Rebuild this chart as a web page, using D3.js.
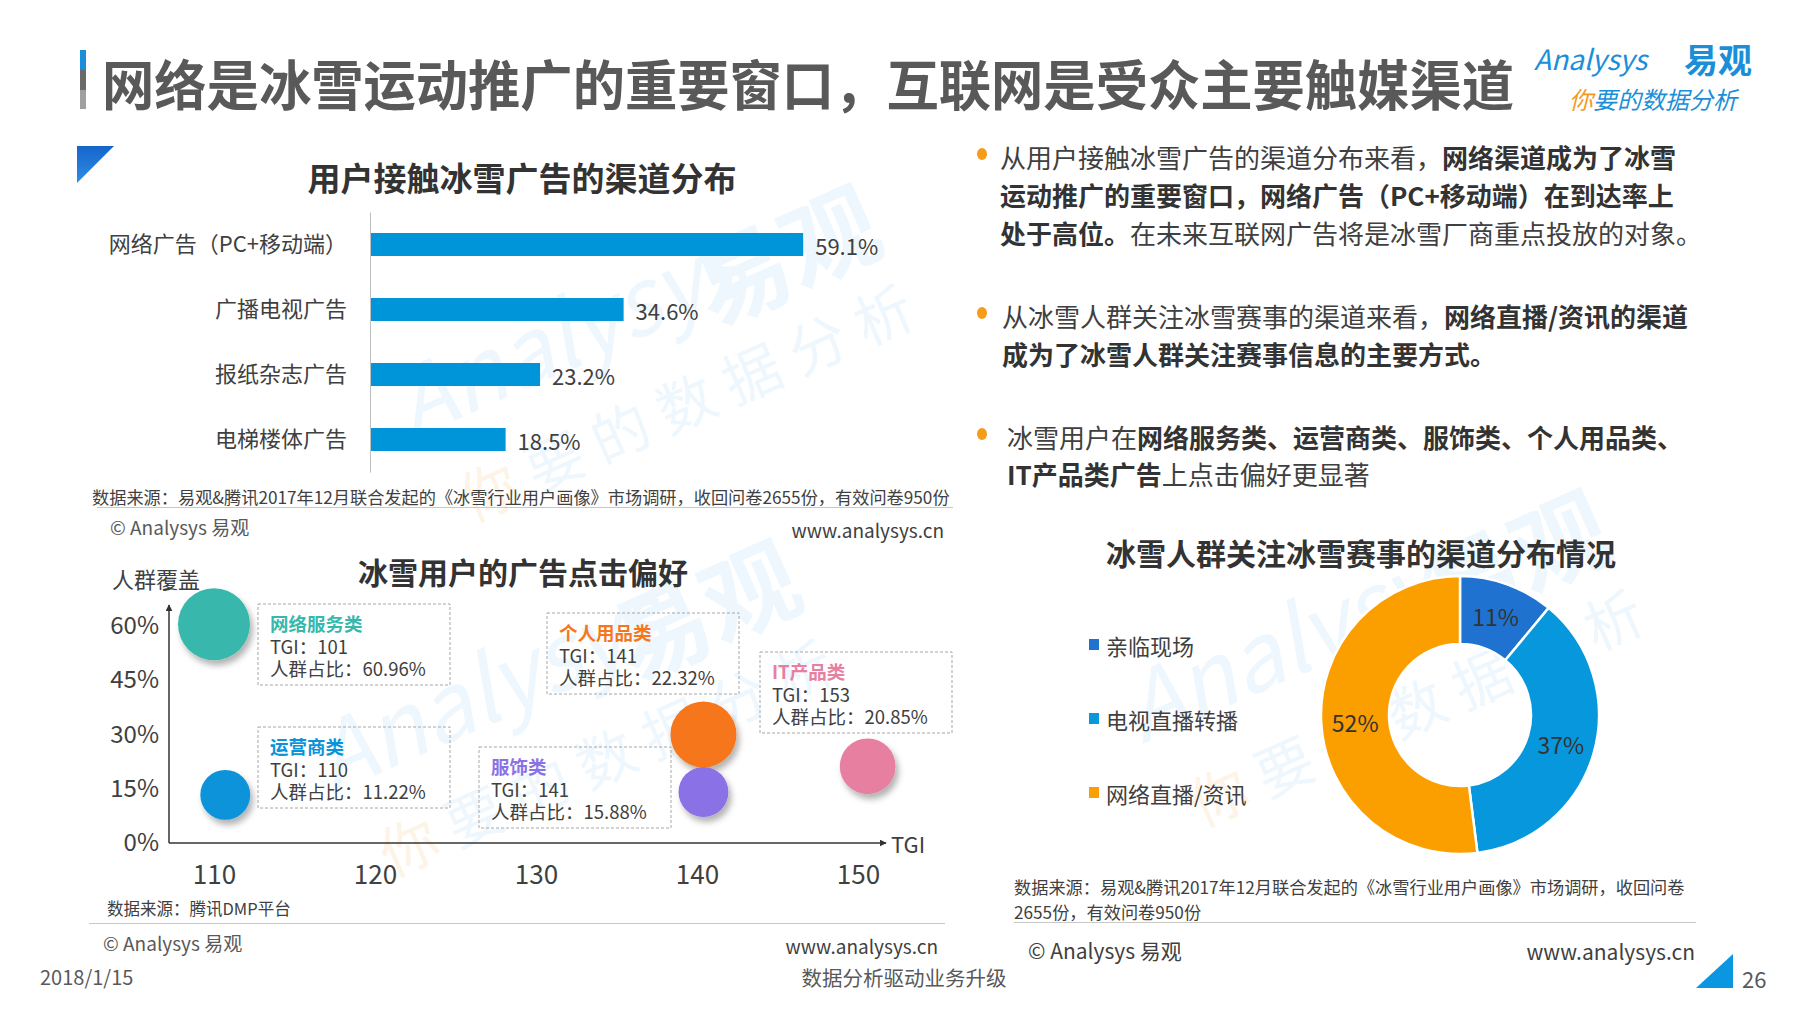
<!DOCTYPE html>
<html><head><meta charset="utf-8">
<script src="https://cdn.jsdelivr.net/npm/d3@7"></script>
<style>
body{margin:0;background:#fff}
svg{display:block}
text{font-family:"Noto Sans CJK SC","Noto Sans",sans-serif}
</style>
</head><body>
<svg id="c" width="1800" height="1013"></svg>
<script>
// ---------- DATA ----------
const barCategories = ["网络广告（PC+移动端）","广播电视广告","报纸杂志广告","电梯楼体广告"];
const barValues = [59.1, 34.6, 23.2, 18.5];

const bubbleNames = ["网络服务类","运营商类","个人用品类","服饰类","IT产品类"];
const bubbleTGI = [101, 110, 141, 141, 153];
const bubbleShare = [60.96, 11.22, 22.32, 15.88, 20.85];
// where each bubble sits on the (schematic) TGI / coverage axes
const bubbleAxisX = [110, 110.7, 140.4, 140.4, 150.6];
const bubbleAxisY = [60.5, 13.3, 30.0, 14.1, 21.2];
const bubbleWeight = [100, 48, 84, 48, 60];
const bubbleXTicks = [110, 120, 130, 140, 150];
const bubbleYTicks = [0, 15, 30, 45, 60];

const donutLabels = ["亲临现场","电视直播转播","网络直播/资讯"];
const donutValues = [11, 37, 52];

// ---------- STYLE ----------
const bubbleColors = ["#37b8ad","#0b93da","#f6761c","#8a72e6","#e67fa0"];
const donutColors = ["#1f72cf","#0797dd","#fb9e00"];
const TXT = "#404040";

const svg = d3.select("#c");
const defs = svg.append("defs");
const sh = defs.append("filter").attr("id","shadow").attr("x","-30%").attr("y","-30%").attr("width","170%").attr("height","170%");
sh.append("feDropShadow").attr("dx",3).attr("dy",5).attr("stdDeviation",3).attr("flood-color","#000").attr("flood-opacity",0.3);
defs.append("marker").attr("id","arrow").attr("viewBox","0 0 10 10").attr("refX",9).attr("refY",5)
  .attr("markerWidth",7).attr("markerHeight",7).attr("markerUnits","userSpaceOnUse").attr("orient","auto")
  .append("path").attr("d","M0,0L10,5L0,10Z").attr("fill","#333");
const g1 = defs.append("linearGradient").attr("id","tri").attr("x1","0").attr("y1","0").attr("x2","0").attr("y2","1");
g1.append("stop").attr("offset","0").attr("stop-color","#1565c8");
g1.append("stop").attr("offset","1").attr("stop-color","#2e8ee6");

// ---------- WATERMARKS ----------
function watermark(cx, cy){
  const w = svg.append("g").attr("transform",`translate(${cx},${cy}) rotate(-24)`);
  w.append("text").attr("x",-210).attr("y",10).attr("font-size",92).attr("font-style","italic")
    .attr("fill","#eef7fd").text("Analysys");
  w.append("text").attr("x",110).attr("y",30).attr("font-size",96).attr("font-weight",700)
    .attr("fill","#eef7fd").text("易观");
  const t = w.append("text").attr("x",-190).attr("y",110).attr("font-size",58).attr("letter-spacing",14);
  t.append("tspan").attr("fill","#fdf3e6").text("你");
  t.append("tspan").attr("fill","#eef7fd").text("要的数据分析");
}
watermark(600, 345);
watermark(520, 700);
watermark(1330, 650);

// ---------- HEADER ----------
svg.append("rect").attr("x",80).attr("y",50).attr("width",6).attr("height",20).attr("fill","#1a8fd8");
svg.append("rect").attr("x",80).attr("y",70).attr("width",6).attr("height",20).attr("fill","#6a6a6a");
svg.append("rect").attr("x",80).attr("y",90).attr("width",6).attr("height",19).attr("fill","#a0a0a0");
svg.append("text").attr("x",102).attr("y",82).attr("dominant-baseline","central")
  .attr("font-size",54).attr("font-weight",700).attr("fill","#595959")
  .attr("textLength",1412).attr("lengthAdjust","spacingAndGlyphs")
  .text("网络是冰雪运动推广的重要窗口，互联网是受众主要触媒渠道");
svg.append("text").attr("x",1534).attr("y",70).attr("font-size",28).attr("font-style","italic")
  .attr("fill","#1a8fd8").attr("font-family",'"Noto Sans",sans-serif').text("Analysys");
svg.append("text").attr("x",1684).attr("y",73).attr("font-size",34).attr("font-weight",700)
  .attr("fill","#1a8fd8").text("易观");
const slog = svg.append("text").attr("x",1569).attr("y",109).attr("font-size",24).attr("font-style","italic");
slog.append("tspan").attr("fill","#f39a1e").text("你");
slog.append("tspan").attr("fill","#1a8fd8").text("要的数据分析");

svg.append("path").attr("d","M77,146L114,146L77,183Z").attr("fill","url(#tri)");

// ---------- BAR CHART ----------
svg.append("text").attr("x",522).attr("y",177).attr("text-anchor","middle").attr("dominant-baseline","central")
  .attr("font-size",33).attr("font-weight",700).attr("fill","#333").text("用户接触冰雪广告的渠道分布");

const bx = d3.scaleLinear().domain([0,100]).range([370,1103]);
const by = d3.scaleBand().domain(barCategories).range([212,472]).paddingInner(0.646).paddingOuter(0.323);
const byAxis = svg.append("g").attr("transform",`translate(${bx(0)},0)`)
  .call(d3.axisLeft(by).tickSize(0).tickPadding(23));
byAxis.select(".domain").attr("stroke","#bfbfbf");
byAxis.selectAll("text").attr("font-size",22).attr("fill",TXT).attr("font-family",'"Noto Sans CJK SC",sans-serif');

svg.append("g").selectAll("rect").data(barValues).join("rect")
  .attr("x",bx(0)+1).attr("y",(d,i)=>by(barCategories[i]))
  .attr("width",d=>bx(d)-bx(0)-1).attr("height",by.bandwidth()).attr("fill","#0095d9");
svg.append("g").selectAll("text").data(barValues).join("text")
  .attr("x",d=>bx(d)+12).attr("y",(d,i)=>by(barCategories[i])+by.bandwidth()/2)
  .attr("dominant-baseline","central").attr("font-size",22).attr("fill",TXT)
  .text(d=>d.toFixed(1)+"%");

svg.append("text").attr("x",92).attr("y",496).attr("dominant-baseline","central")
  .attr("font-size",17.2).attr("fill",TXT)
  .text("数据来源：易观&腾讯2017年12月联合发起的《冰雪行业用户画像》市场调研，收回问卷2655份，有效问卷950份");
svg.append("line").attr("x1",97).attr("x2",953).attr("y1",507.5).attr("y2",507.5).attr("stroke","#c8c8c8");
svg.append("text").attr("x",110).attr("y",526).attr("dominant-baseline","central")
  .attr("font-size",19).attr("fill","#595959").text("© Analysys 易观");
svg.append("text").attr("x",944).attr("y",529).attr("dominant-baseline","central").attr("text-anchor","end")
  .attr("font-size",19).attr("fill","#404040").text("www.analysys.cn");

// ---------- BUBBLE CHART ----------
svg.append("text").attr("x",523).attr("y",571).attr("text-anchor","middle").attr("dominant-baseline","central")
  .attr("font-size",30).attr("font-weight",700).attr("fill","#333").text("冰雪用户的广告点击偏好");
svg.append("text").attr("x",112).attr("y",578).attr("dominant-baseline","central")
  .attr("font-size",22).attr("fill",TXT).text("人群覆盖");

const sx = d3.scaleLinear().domain([110,150]).range([214,858]);
const sy = d3.scaleLinear().domain([0,60]).range([843,626]);
const sr = d3.scaleSqrt().domain([0,100]).range([0,36]);
const x0 = 169;

const xa = svg.append("g").attr("transform",`translate(0,${sy(0)})`)
  .call(d3.axisBottom(sx).tickValues(bubbleXTicks).tickSize(0).tickPadding(23));
xa.select(".domain").remove();
xa.selectAll("text").attr("font-size",26).attr("fill",TXT).attr("font-family",'"Noto Sans",sans-serif');
const ya = svg.append("g").attr("transform",`translate(${x0},0)`)
  .call(d3.axisLeft(sy).tickValues(bubbleYTicks).tickFormat(d=>d+"%").tickSize(0).tickPadding(10));
ya.select(".domain").remove();
ya.selectAll("text").attr("font-size",24).attr("fill",TXT).attr("font-family",'"Noto Sans",sans-serif');

svg.append("line").attr("x1",x0).attr("y1",sy(0)).attr("x2",x0).attr("y2",605)
  .attr("stroke","#333").attr("stroke-width",1.5).attr("marker-end","url(#arrow)");
svg.append("line").attr("x1",x0).attr("y1",sy(0)).attr("x2",886).attr("y2",sy(0))
  .attr("stroke","#333").attr("stroke-width",1.5).attr("marker-end","url(#arrow)");
svg.append("text").attr("x",891).attr("y",sy(0)).attr("dominant-baseline","central")
  .attr("font-size",22).attr("fill",TXT).text("TGI");

svg.append("g").selectAll("circle").data(bubbleNames).join("circle")
  .attr("cx",(d,i)=>sx(bubbleAxisX[i])).attr("cy",(d,i)=>sy(bubbleAxisY[i]))
  .attr("r",(d,i)=>sr(bubbleWeight[i])).attr("fill",(d,i)=>bubbleColors[i])
  .attr("filter","url(#shadow)");

// callout boxes (layout)
const calloutPos = [[258,604],[258,727],[547,613],[479,747],[760,652]];
const cb = svg.append("g").selectAll("g").data(bubbleNames).join("g")
  .attr("transform",(d,i)=>`translate(${calloutPos[i][0]},${calloutPos[i][1]})`);
cb.append("rect").attr("width",192).attr("height",81).attr("fill","none")
  .attr("stroke","#a6a6a6").attr("stroke-dasharray","3,2").attr("stroke-width",1);
cb.append("text").attr("x",12).attr("y",19).attr("dominant-baseline","central")
  .attr("font-size",18.5).attr("font-weight",700).attr("fill",(d,i)=>bubbleColors[i]).text(d=>d);
cb.append("text").attr("x",12).attr("y",42).attr("dominant-baseline","central")
  .attr("font-size",18.5).attr("fill",TXT).text((d,i)=>"TGI："+bubbleTGI[i]);
cb.append("text").attr("x",12).attr("y",64).attr("dominant-baseline","central")
  .attr("font-size",18.5).attr("fill",TXT).text((d,i)=>"人群占比："+bubbleShare[i].toFixed(2)+"%");

svg.append("text").attr("x",107).attr("y",908).attr("dominant-baseline","central")
  .attr("font-size",16.5).attr("fill",TXT).text("数据来源：腾讯DMP平台");
svg.append("line").attr("x1",89).attr("x2",945).attr("y1",923.5).attr("y2",923.5).attr("stroke","#c8c8c8");
svg.append("text").attr("x",103).attr("y",942).attr("dominant-baseline","central")
  .attr("font-size",19).attr("fill","#595959").text("© Analysys 易观");
svg.append("text").attr("x",938).attr("y",945).attr("dominant-baseline","central").attr("text-anchor","end")
  .attr("font-size",19).attr("fill","#404040").text("www.analysys.cn");

// ---------- BULLETS ----------
const bullets = [
  {y:[156,194,232], x:1000, lines:[
    [["n","从用户接触冰雪广告的渠道分布来看，"],["b","网络渠道成为了冰雪"]],
    [["b","运动推广的重要窗口，网络广告（PC+移动端）在到达率上"]],
    [["b","处于高位。"],["n","在未来互联网广告将是冰雪厂商重点投放的对象。"]]]},
  {y:[315,353], x:1002, lines:[
    [["n","从冰雪人群关注冰雪赛事的渠道来看，"],["b","网络直播/资讯的渠道"]],
    [["b","成为了冰雪人群关注赛事信息的主要方式。"]]]},
  {y:[436,473], x:1007, lines:[
    [["n","冰雪用户在"],["b","网络服务类、运营商类、服饰类、个人用品类、"]],
    [["b","IT产品类广告"],["n","上点击偏好更显著"]]]}
];
bullets.forEach(b=>{
  svg.append("ellipse").attr("cx",982).attr("cy",b.y[0]-2).attr("rx",5).attr("ry",6).attr("fill","#f59c1a");
  b.lines.forEach((ln,li)=>{
    const t = svg.append("text").attr("x",b.x).attr("y",b.y[li]).attr("dominant-baseline","central").attr("font-size",26);
    ln.forEach(seg=>t.append("tspan").attr("font-weight",seg[0]==="b"?700:400)
      .attr("fill",seg[0]==="b"?"#333":TXT).text(seg[1]));
  });
});

// ---------- DONUT ----------
svg.append("text").attr("x",1361).attr("y",552).attr("text-anchor","middle").attr("dominant-baseline","central")
  .attr("font-size",30).attr("font-weight",700).attr("fill","#333").text("冰雪人群关注冰雪赛事的渠道分布情况");
const pie = d3.pie().sort(null).value(d=>d);
const arcs = pie(donutValues);
const arc = d3.arc().innerRadius(71).outerRadius(139);
const lblArc = d3.arc().innerRadius(105).outerRadius(105);
const dg = svg.append("g").attr("transform","translate(1460,715)");
dg.selectAll("path").data(arcs).join("path").attr("d",arc)
  .attr("fill",(d,i)=>donutColors[i]).attr("stroke","#fff").attr("stroke-width",2.5);
dg.selectAll("text").data(arcs).join("text")
  .attr("transform",d=>`translate(${lblArc.centroid(d)})`)
  .attr("text-anchor","middle").attr("dominant-baseline","central")
  .attr("font-size",23).attr("fill","#333").attr("font-family",'"Noto Sans",sans-serif')
  .text(d=>d.data+"%");

const lg = svg.append("g").selectAll("g").data(donutLabels).join("g")
  .attr("transform",(d,i)=>`translate(1089,${645+i*74})`);
lg.append("rect").attr("x",0).attr("y",-6).attr("width",10).attr("height",11).attr("fill",(d,i)=>donutColors[i]);
lg.append("text").attr("x",17).attr("y",0).attr("dominant-baseline","central")
  .attr("font-size",22).attr("fill",TXT).text(d=>d);

svg.append("text").attr("x",1014).attr("y",886).attr("dominant-baseline","central")
  .attr("font-size",17.2).attr("fill",TXT)
  .text("数据来源：易观&腾讯2017年12月联合发起的《冰雪行业用户画像》市场调研，收回问卷");
svg.append("text").attr("x",1014).attr("y",911).attr("dominant-baseline","central")
  .attr("font-size",17.2).attr("fill",TXT).text("2655份，有效问卷950份");
svg.append("line").attr("x1",1014).attr("x2",1696).attr("y1",922.5).attr("y2",922.5).attr("stroke","#c8c8c8");
svg.append("text").attr("x",1028).attr("y",950).attr("dominant-baseline","central")
  .attr("font-size",21).attr("fill","#404040").text("© Analysys 易观");
svg.append("text").attr("x",1695).attr("y",951).attr("dominant-baseline","central").attr("text-anchor","end")
  .attr("font-size",21).attr("fill","#404040").text("www.analysys.cn");

// ---------- FOOTER ----------
svg.append("text").attr("x",40).attr("y",976).attr("dominant-baseline","central")
  .attr("font-size",20).attr("fill","#595959").text("2018/1/15");
svg.append("text").attr("x",904).attr("y",977).attr("dominant-baseline","central").attr("text-anchor","middle")
  .attr("font-size",20.5).attr("fill","#595959").text("数据分析驱动业务升级");
svg.append("path").attr("d","M1696,988L1733,988L1733,954Z").attr("fill","#0a96e0");
svg.append("text").attr("x",1742).attr("y",978).attr("dominant-baseline","central")
  .attr("font-size",22).attr("fill","#595959").text("26");
</script>
</body></html>
